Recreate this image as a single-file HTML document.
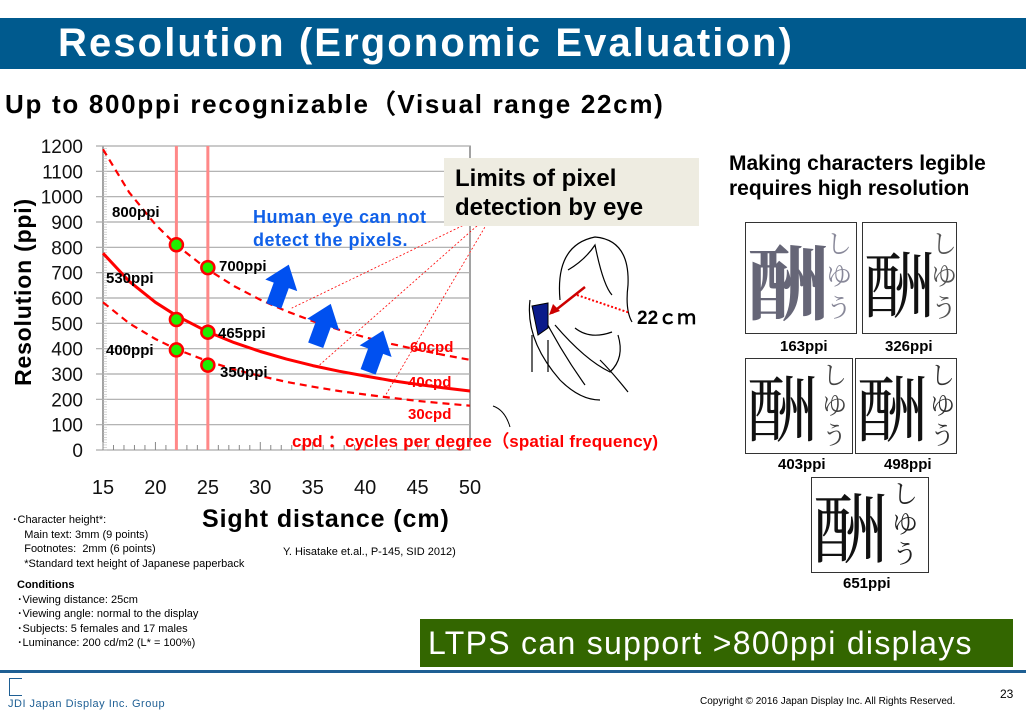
<!DOCTYPE html>
<html><head><meta charset="utf-8">
<style>
body{margin:0;width:1026px;height:713px;background:#fff;position:relative;overflow:hidden;font-family:"Liberation Sans","DejaVu Sans",sans-serif;}
.a{position:absolute;white-space:nowrap;}
.b{font-weight:bold;}
.box{position:absolute;border:1.5px solid #333;background:#fff;overflow:hidden;}
.kj{font-family:"Noto Serif CJK SC","Noto Sans CJK JP",serif;color:#111;}
</style></head><body>
<div class="a" style="left:0;top:18px;width:1026px;height:51px;background:#005a8e;"></div>
<div class="a b" style="left:58px;top:21px;font-size:40px;letter-spacing:2.1px;color:#fff;">Resolution (Ergonomic Evaluation)</div>
<div class="a b" style="left:5px;top:84px;font-size:26px;letter-spacing:1.7px;color:#000;">Up to 800ppi recognizable（Visual range 22cm)</div>

<svg class="a" style="left:0;top:0" width="1026" height="713" id="chart"></svg>

<div class="a" style="left:444px;top:158px;width:255px;height:68px;background:#eeece1;"></div>
<div class="a b" style="left:455px;top:164px;font-size:24px;line-height:29px;">Limits of pixel<br>detection by eye</div>
<div class="a b" style="left:253px;top:206px;font-size:18px;line-height:23px;letter-spacing:0.5px;color:#1060e8;">Human eye can not<br>detect the pixels.</div>
<div class="a b" style="left:292px;top:427px;font-size:17px;letter-spacing:0.2px;color:#f00;">cpd ：cycles per degree（spatial frequency)</div>
<div class="a b" style="left:637px;top:303px;font-size:19px;">22ｃｍ</div>

<div class="a b" style="left:729px;top:151px;font-size:21px;line-height:25px;">Making characters legible<br>requires high resolution</div>

<div class="box" style="left:745px;top:222px;width:110px;height:110px;"><div class="a kj" style="left:2px;top:-2px;font-size:80px;color:#667;font-weight:900;">酬</div><div class="a kj" style="left:80px;top:4px;font-size:26px;line-height:32px;color:#889;">し<br>ゆ<br>う</div></div>
<div class="box" style="left:862px;top:222px;width:93px;height:110px;"><div class="a kj" style="left:0;top:6px;font-size:72px;">酬</div><div class="a kj" style="left:68px;top:4px;font-size:26px;line-height:32px;color:#555;">し<br>ゆ<br>う</div></div>
<div class="a b" style="left:780px;top:338px;font-size:15px;">163ppi</div>
<div class="a b" style="left:885px;top:338px;font-size:15px;">326ppi</div>
<div class="box" style="left:745px;top:358px;width:106px;height:94px;"><div class="a kj" style="left:0;top:-6px;font-size:72px;">酬</div><div class="a kj" style="left:76px;top:0;font-size:25px;line-height:30px;color:#444;">し<br>ゆ<br>う</div></div>
<div class="box" style="left:855px;top:358px;width:100px;height:94px;"><div class="a kj" style="left:0;top:-6px;font-size:72px;">酬</div><div class="a kj" style="left:74px;top:0;font-size:25px;line-height:30px;color:#333;">し<br>ゆ<br>う</div></div>
<div class="a b" style="left:778px;top:456px;font-size:15px;">403ppi</div>
<div class="a b" style="left:884px;top:456px;font-size:15px;">498ppi</div>
<div class="box" style="left:811px;top:477px;width:116px;height:94px;"><div class="a kj" style="left:0;top:-8px;font-size:76px;">酬</div><div class="a kj" style="left:80px;top:0;font-size:26px;line-height:30px;color:#222;">し<br>ゆ<br>う</div></div>
<div class="a b" style="left:843px;top:575px;font-size:15px;">651ppi</div>

<div class="a b" style="left:202px;top:505px;font-size:25px;letter-spacing:0.9px;">Sight distance (cm)</div>
<div class="a" style="left:12px;top:513px;font-size:11px;line-height:14.5px;">･Character height*:<br>&nbsp;&nbsp;&nbsp;&nbsp;Main text: 3mm (9 points)<br>&nbsp;&nbsp;&nbsp;&nbsp;Footnotes:&nbsp; 2mm (6 points)<br>&nbsp;&nbsp;&nbsp;&nbsp;*Standard text height of Japanese paperback</div>
<div class="a" style="left:283px;top:546px;font-size:11px;">Y. Hisatake et.al., P-145, SID 2012)</div>
<div class="a" style="left:17px;top:578px;font-size:11px;line-height:14.5px;"><b>Conditions</b><br>･Viewing distance: 25cm<br>･Viewing angle: normal to the display<br>･Subjects: 5 females and 17 males<br>･Luminance: 200 cd/m2 (L* = 100%)</div>
<div class="a" style="left:420px;top:619px;width:593px;height:48px;background:#336600;color:#fff;font-size:32px;letter-spacing:1.3px;line-height:48px;text-indent:8px;">LTPS can support &gt;800ppi displays</div>
<div class="a" style="left:0;top:670px;width:1026px;height:3px;background:#1e5f94;"></div>
<div class="a" style="left:9px;top:678px;width:12px;height:16px;border-left:1px solid #1e5f94;border-bottom:1px solid #1e5f94;border-top:1px solid #1e5f94;"></div>
<div class="a" style="left:8px;top:698px;font-size:11px;color:#1e5f94;letter-spacing:0.5px;">JDI Japan Display Inc. Group</div>
<div class="a" style="left:700px;top:696px;font-size:10px;">Copyright © 2016 Japan Display Inc. All Rights Reserved.</div>
<div class="a" style="left:1000px;top:687px;font-size:12px;">23</div>

<script>
const distances=[15,17.5,20,22,25,27.5,30,32.5,35,37.5,40,42.5,45,47.5,50];
const cpd60=[1187,1017,890,809,712,647,593,548,509,475,445,419,396,375,356];
const cpd40=[777,666,583,530,466,424,389,359,333,311,292,274,259,245,233];
const cpd30=[583,500,438,398,350,318,292,269,250,233,219,206,194,184,175];
const markerDist=[22,22,22,25,25,25];
const markerVal=[810,515,395,720,465,335];
const yTicks=[0,100,200,300,400,500,600,700,800,900,1000,1100,1200];
const xTicks=[15,20,25,30,35,40,45,50];
const NS='http://www.w3.org/2000/svg';
const svg=document.getElementById('chart');
const X=d=>103+(d-15)*367/35, Y=v=>450-v*304/1200;
function mk(t,a,txt){const e=document.createElementNS(NS,t);for(const k in a)e.setAttribute(k,a[k]);if(txt!==undefined)e.textContent=txt;svg.appendChild(e);return e;}
mk('rect',{x:X(15),y:Y(1200),width:X(50)-X(15),height:Y(0)-Y(1200),fill:'#fff',stroke:'#444'});
yTicks.forEach(v=>{let g=mk('line',{x1:96,x2:X(50),y1:Y(v),y2:Y(v),stroke:'#aaa','stroke-width':1.2});

let t=mk('text',{x:83,y:Y(v)+7,'text-anchor':'end','font-size':19,fill:'#111'},v);
});
for(let v=0;v<1200;v+=10)mk('line',{x1:X(15),x2:X(15)+4,y1:Y(v),y2:Y(v),stroke:'#bbb','stroke-width':0.6});
for(let d=15;d<=50;d+=1)mk('line',{x1:X(d),x2:X(d),y1:Y(0),y2:Y(0)-(d%5?5:8),stroke:'#888'});
xTicks.forEach(d=>{let t=mk('text',{x:X(d),y:494,'text-anchor':'middle','font-size':20,fill:'#111'},d);
});
let yt=mk('text',{x:0,y:0,transform:'translate(31,292) rotate(-90)','text-anchor':'middle','font-size':23,'font-weight':'bold','letter-spacing':0.8},'Resolution (ppi)');

[22,25].forEach(d=>{let l=mk('line',{x1:X(d),x2:X(d),y1:Y(1200),y2:Y(0),stroke:'#f88','stroke-width':3});
});
function curve(vals,dash,name){let p=vals.map((v,i)=>(i?'L':'M')+X(distances[i]).toFixed(1)+','+Y(v).toFixed(1)).join('');
let e=mk('path',{d:p,fill:'none',stroke:'#f00','stroke-width':dash?2.2:3,'stroke-dasharray':dash?'7,5':'none','stroke-linejoin':'round'});
}
curve(cpd60,true,'curve-60cpd');curve(cpd40,false,'curve-40cpd');curve(cpd30,true,'curve-30cpd');
[[X(33),Y(560)],[X(35.5),Y(330)],[X(42),Y(220)]].forEach(p=>mk('line',{x1:495,y1:210,x2:p[0],y2:p[1],stroke:'#f00','stroke-width':0.8,'stroke-dasharray':'2,2'}));
[[X(32),Y(650)],[X(36),Y(495)],[X(41),Y(390)]].forEach(p=>{let a=mk('path',{d:'M-8,22 L-8,0 L-17,0 L0,-22 L17,0 L8,0 L8,22Z',fill:'#0050f0',transform:`translate(${p[0]},${p[1]}) rotate(20)`});
});
markerDist.forEach((d,i)=>{let c=mk('circle',{cx:X(d),cy:Y(markerVal[i]),r:6.5,fill:'#22ee00',stroke:'#f00','stroke-width':2.5});
});
[['800ppi',112,217],['530ppi',106,283],['400ppi',106,355],['700ppi',219,271],['465ppi',218,338],['350ppi',220,377]].forEach(l=>{let t=mk('text',{x:l[1],y:l[2],'font-size':15,'font-weight':'bold'},l[0]);
});
[['60cpd',410,352],['40cpd',408,387],['30cpd',408,419]].forEach(l=>{let t=mk('text',{x:l[1],y:l[2],'font-size':15,'font-weight':'bold',fill:'#f00'},l[0]);
});
mk('path',{d:'M493,406 Q505,410 510,427',fill:'none',stroke:'#000'});
const g='fill:none;stroke:#000;stroke-width:1.2';
let ps=[ 'M560,300 Q555,245 595,237 Q630,240 628,285 Q625,310 632,322',
 'M568,270 Q585,260 595,245 Q603,285 612,295','M575,328 Q590,340 612,332','M600,360 Q612,372 628,392',
 'M530,300 Q525,340 560,380 Q580,400 600,400','M540,310 Q560,350 585,385','M555,325 Q585,360 610,372 Q625,358 618,335',
 'M532,335 L532,372','M548,340 L548,372'];
ps.forEach(d=>{let p=mk('path',{d:d,style:g});});
mk('path',{d:'M532,306 L548,303 L548,328 L538,335 Z',fill:'#0a1a8a',stroke:'#000'});
mk('line',{x1:577,y1:295,x2:630,y2:313,stroke:'#f00','stroke-width':2,'stroke-dasharray':'2,2'});
mk('line',{x1:585,y1:287,x2:552,y2:313,stroke:'#c00','stroke-width':2.5});
mk('path',{d:'M549,315 L553,304 L560,311Z',fill:'#c00'});
</script>
</body></html>
